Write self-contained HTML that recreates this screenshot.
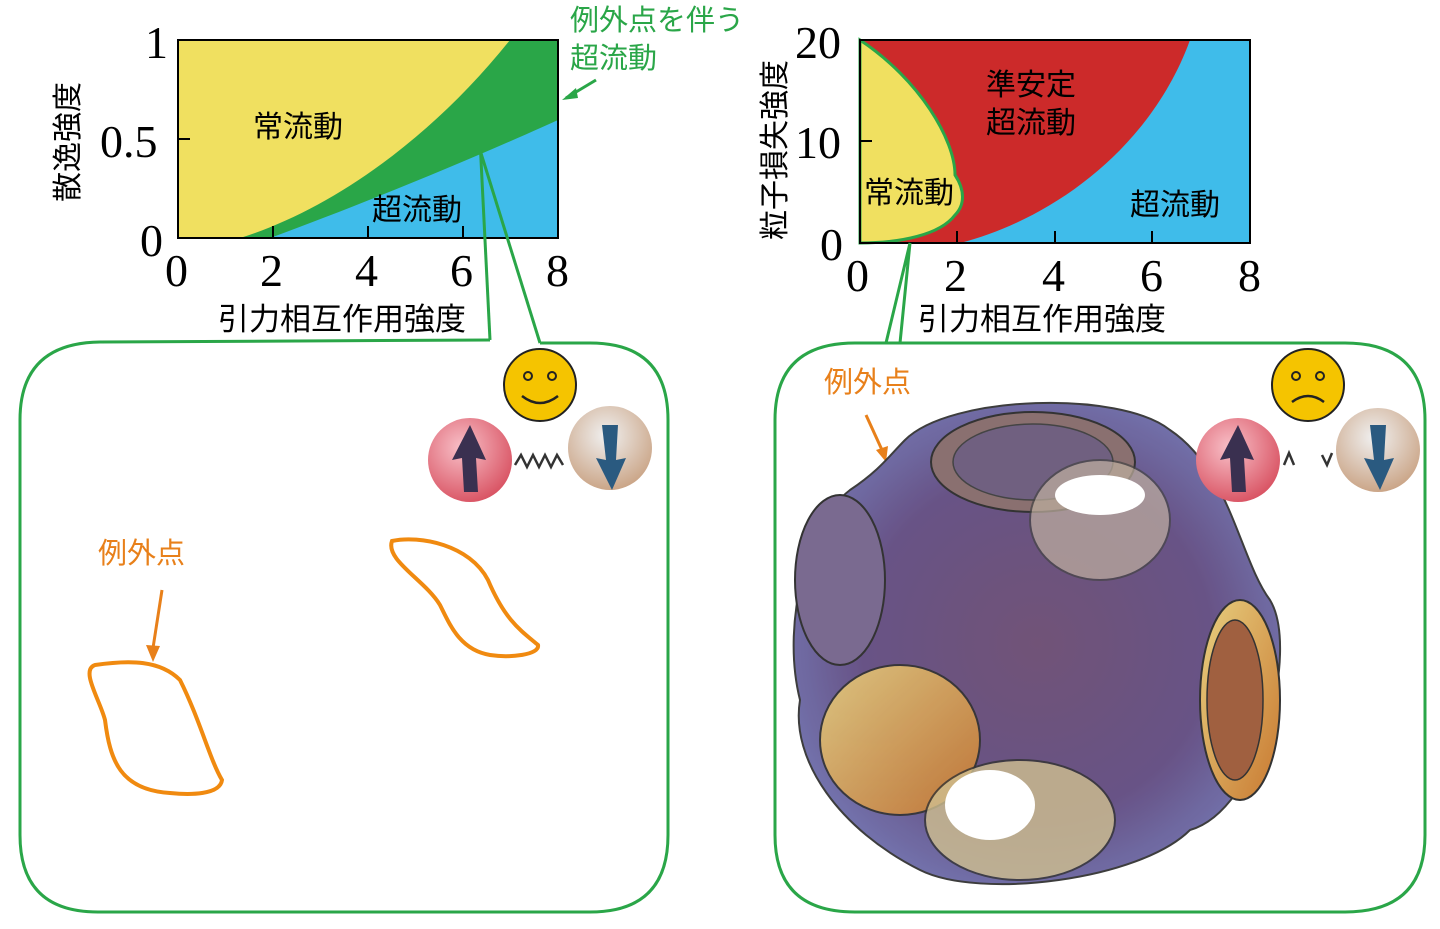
<!DOCTYPE html>
<html><head><meta charset="utf-8"><style>
html,body{margin:0;padding:0;background:#fff;width:1440px;height:929px;overflow:hidden}
svg{display:block}
.j{font-family:"Liberation Sans","Noto Sans CJK JP",sans-serif}
.n{font-family:"Liberation Serif",serif;font-size:46px}
</style></head><body>
<svg width="1440" height="929" viewBox="0 0 1440 929">
<defs>
<radialGradient id="rb" cx="0.4" cy="0.35" r="0.7"><stop offset="0" stop-color="#f8c0c8"/><stop offset="1" stop-color="#d85060"/></radialGradient>
<radialGradient id="bb" cx="0.45" cy="0.35" r="0.7"><stop offset="0" stop-color="#f0f0f0"/><stop offset="1" stop-color="#c8a080"/></radialGradient>
<radialGradient id="body" cx="0.5" cy="0.5" r="0.6"><stop offset="0" stop-color="#6a4a70"/><stop offset="0.6" stop-color="#604a80"/><stop offset="1" stop-color="#7078b8"/></radialGradient>
<linearGradient id="ring" x1="0" y1="0" x2="1" y2="1"><stop offset="0" stop-color="#e8d080"/><stop offset="1" stop-color="#c87830"/></linearGradient>
</defs>
<!-- left plot -->
<rect x="178" y="40" width="380" height="198" fill="#f0e060"/>
<path d="M240,238 C330,210 430,140 510,40 L558,40 L558,238 Z" fill="#2aa648"/>
<path d="M270,238 C360,205 470,160 558,120 L558,238 Z" fill="#3fbcea"/>
<rect x="178" y="40" width="380" height="198" fill="none" stroke="#000" stroke-width="2"/>
<g stroke="#000" stroke-width="2"><line x1="178" y1="139" x2="190" y2="139"/><line x1="273" y1="238" x2="273" y2="226"/><line x1="368" y1="238" x2="368" y2="226"/><line x1="463" y1="238" x2="463" y2="226"/></g>
<text class="n" x="145" y="58">1</text><text class="n" x="100" y="157">0.5</text><text class="n" x="140" y="256">0</text>
<text class="n" x="165" y="286">0</text><text class="n" x="260" y="286">2</text><text class="n" x="355" y="286">4</text><text class="n" x="450" y="286">6</text><text class="n" x="546" y="286">8</text>
<text class="j" x="253" y="137" font-size="30">常流動</text><text class="j" x="372" y="220" font-size="30">超流動</text>
<text class="j" x="218" y="330" font-size="31">引力相互作用強度</text>
<text class="j" font-size="30" transform="translate(78,202) rotate(-90)">散逸強度</text>
<text class="j" x="570" y="30" font-size="29" fill="#2aa648">例外点を伴う</text><text class="j" x="570" y="68" font-size="29" fill="#2aa648">超流動</text>
<line x1="596" y1="80" x2="566" y2="98" stroke="#2aa648" stroke-width="3"/><path d="M562,100 L576,88 L578,98 Z" fill="#2aa648"/>
<!-- right plot -->
<rect x="860" y="40" width="390" height="203" fill="#3fbcea"/>
<path d="M860,40 L1190,40 C1150,150 1050,220 960,243 L860,243 Z" fill="#cc2a2a"/>
<path d="M860,40 C920,80 955,140 955,175 C965,190 965,205 955,215 C940,235 900,243 860,243 Z" fill="#f0e060" stroke="#2aa648" stroke-width="3"/>
<rect x="860" y="40" width="390" height="203" fill="none" stroke="#000" stroke-width="2"/>
<g stroke="#000" stroke-width="2"><line x1="860" y1="141" x2="872" y2="141"/><line x1="957" y1="243" x2="957" y2="231"/><line x1="1055" y1="243" x2="1055" y2="231"/><line x1="1152" y1="243" x2="1152" y2="231"/></g>
<text class="n" x="795" y="58">20</text><text class="n" x="795" y="158">10</text><text class="n" x="820" y="260">0</text>
<text class="n" x="846" y="291">0</text><text class="n" x="944" y="291">2</text><text class="n" x="1042" y="291">4</text><text class="n" x="1140" y="291">6</text><text class="n" x="1238" y="291">8</text>
<text class="j" x="986" y="95" font-size="30">準安定</text><text class="j" x="986" y="133" font-size="30">超流動</text>
<text class="j" x="864" y="203" font-size="30">常流動</text><text class="j" x="1130" y="215" font-size="30">超流動</text>
<text class="j" x="918" y="330" font-size="31">引力相互作用強度</text>
<text class="j" font-size="30" transform="translate(785,240) rotate(-90)">粒子損失強度</text>
<!-- panels -->
<g fill="none" stroke="#2aa648" stroke-width="3">
<path d="M490,340 L478,100"/>
<path d="M480,150 L540,343"/>
<path d="M100,342 L490,340 M540,343 L590,343 Q668,343 668,420 L668,835 Q668,912 590,912 L98,912 Q20,912 20,835 L20,420 Q20,343 100,342"/>
<path d="M886,343 L910,243 L900,343"/>
<path d="M855,343 L1345,343 Q1425,343 1425,420 L1425,835 Q1425,912 1345,912 L855,912 Q775,912 775,835 L775,420 Q775,343 855,343 Z"/>
</g>
<!-- left panel contents -->
<circle cx="540" cy="385" r="36" fill="#f5c400" stroke="#222" stroke-width="2"/><circle cx="528" cy="376" r="4" fill="none" stroke="#222" stroke-width="2"/><circle cx="552" cy="376" r="4" fill="none" stroke="#222" stroke-width="2"/><path d="M522,396 Q540,410 558,396" fill="none" stroke="#222" stroke-width="2.5"/>
<circle cx="470" cy="460" r="42" fill="url(#rb)"/><path d="M470,425 L486,460 L476,458 L478,492 L464,492 L462,458 L452,460 Z" fill="#3a3050"/>
<circle cx="610" cy="448" r="42" fill="url(#bb)"/><path d="M602,425 L618,425 L616,460 L626,458 L612,490 L596,458 L606,460 Z" fill="#2a5a80"/>
<path d="M515,465 l6,-10 l6,12 l6,-12 l6,12 l6,-12 l6,12 l6,-12 l6,10" fill="none" stroke="#333" stroke-width="2.5"/>
<text class="j" x="98" y="563" font-size="29" fill="#e8801a">例外点</text>
<line x1="162" y1="590" x2="153" y2="648" stroke="#e8801a" stroke-width="3"/><path d="M146,645 L153,662 L160,646 Z" fill="#e8801a"/>
<g fill="none" stroke="#f08a10" stroke-width="4">
<path d="M95,665 C130,660 160,660 180,680 C200,720 210,760 222,780 C220,795 190,795 170,793 C120,790 110,760 105,720 C100,700 80,670 95,665 Z"/>
<path d="M392,541 C420,535 470,545 488,580 C505,620 520,630 538,645 C540,655 510,658 490,655 C460,650 450,625 440,605 C425,580 385,560 392,541 Z"/>
</g>
<!-- right panel contents -->
<text class="j" x="824" y="392" font-size="29" fill="#e8801a">例外点</text>
<line x1="866" y1="415" x2="882" y2="450" stroke="#e8801a" stroke-width="3"/><path d="M876,450 L886,462 L888,446 Z" fill="#e8801a"/>
<path d="M905,440 C950,395 1120,390 1170,430 C1230,470 1240,560 1270,600 C1300,650 1260,810 1190,830 C1140,880 980,900 920,870 C840,830 790,760 800,700 C780,620 810,520 850,490 C880,470 890,455 905,440 Z" fill="url(#body)" stroke="#333" stroke-width="2" opacity="0.95"/>
<ellipse cx="1033" cy="462" rx="102" ry="50" fill="#8a7070" stroke="#333" stroke-width="2"/>
<ellipse cx="1033" cy="462" rx="80" ry="38" fill="#706080" stroke="#444" stroke-width="1.5"/>
<ellipse cx="1100" cy="520" rx="70" ry="60" fill="#c0b0a0" stroke="#444" stroke-width="2" opacity="0.7"/>
<ellipse cx="1100" cy="495" rx="45" ry="20" fill="#fff"/>
<ellipse cx="840" cy="580" rx="45" ry="85" fill="#7a6a90" stroke="#333" stroke-width="2"/>
<ellipse cx="1240" cy="700" rx="40" ry="100" fill="url(#ring)" stroke="#333" stroke-width="2"/>
<ellipse cx="1235" cy="700" rx="28" ry="80" fill="#a06040" stroke="#333" stroke-width="1.5"/>
<ellipse cx="900" cy="740" rx="80" ry="75" fill="url(#ring)" stroke="#333" stroke-width="2" opacity="0.9"/>
<ellipse cx="1020" cy="820" rx="95" ry="60" fill="#d0c090" stroke="#333" stroke-width="2" opacity="0.8"/>
<ellipse cx="990" cy="805" rx="45" ry="35" fill="#fff"/>
<circle cx="1308" cy="385" r="36" fill="#f5c400" stroke="#222" stroke-width="2"/><circle cx="1296" cy="376" r="4" fill="none" stroke="#222" stroke-width="2"/><circle cx="1320" cy="376" r="4" fill="none" stroke="#222" stroke-width="2"/><path d="M1292,402 Q1308,390 1324,402" fill="none" stroke="#222" stroke-width="2.5"/>
<circle cx="1238" cy="460" r="42" fill="url(#rb)"/><path d="M1238,425 L1254,460 L1244,458 L1246,492 L1232,492 L1230,458 L1220,460 Z" fill="#3a3050"/>
<circle cx="1378" cy="450" r="42" fill="url(#bb)"/><path d="M1370,425 L1386,425 L1384,460 L1394,458 L1380,490 L1364,458 L1374,460 Z" fill="#2a5a80"/>
<path d="M1284,465 l5,-12 l5,12 M1322,455 l5,10 l5,-12" fill="none" stroke="#333" stroke-width="2.5"/>
</svg>
</body></html>
